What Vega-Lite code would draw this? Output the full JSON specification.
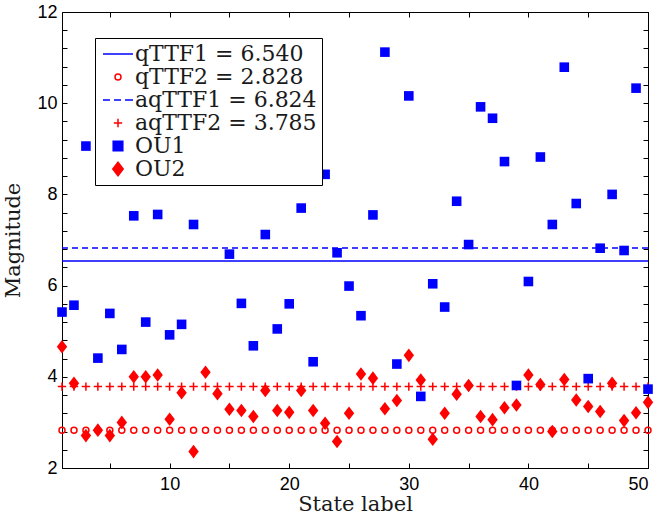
{
  "$schema": "https://vega.github.io/schema/vega-lite/v6.json",
  "width": 586,
  "height": 456,
  "autosize": {"type": "none"},
  "padding": {"left": 62, "top": 12, "right": 11, "bottom": 50},
  "background": "white",
  "config": {
    "view": {"stroke": "black", "strokeWidth": 1},
    "axis": {
      "grid": false,
      "domainColor": "black",
      "domainWidth": 1,
      "tickColor": "black",
      "tickWidth": 1,
      "tickSize": -5,
      "labelFont": "Liberation Sans",
      "labelFontSize": 18,
      "labelColor": "black",
      "titleFont": "DejaVu Serif",
      "titleFontSize": 21,
      "titleFontWeight": "normal",
      "titleColor": "#1a1a1a"
    },
    "legend": {
      "padding": 5,
      "strokeColor": "black",
      "fillColor": "white",
      "symbolSize": 400,
      "symbolStrokeWidth": 1.5,
      "symbolOffset": 7,
      "labelFont": "DejaVu Serif",
      "labelFontSize": 22,
      "labelColor": "#1a1a1a",
      "labelLimit": 400,
      "labelOffset": 6,
      "rowPadding": 1,
      "cornerRadius": 0
    }
  },
  "datasets": {
    "grid": [
      {"x": 1, "q": 2.828, "a": 3.785}, {"x": 2, "q": 2.828, "a": 3.785}, {"x": 3, "q": 2.828, "a": 3.785}, {"x": 4, "q": 2.828, "a": 3.785}, {"x": 5, "q": 2.828, "a": 3.785},
      {"x": 6, "q": 2.828, "a": 3.785}, {"x": 7, "q": 2.828, "a": 3.785}, {"x": 8, "q": 2.828, "a": 3.785}, {"x": 9, "q": 2.828, "a": 3.785}, {"x": 10, "q": 2.828, "a": 3.785},
      {"x": 11, "q": 2.828, "a": 3.785}, {"x": 12, "q": 2.828, "a": 3.785}, {"x": 13, "q": 2.828, "a": 3.785}, {"x": 14, "q": 2.828, "a": 3.785}, {"x": 15, "q": 2.828, "a": 3.785},
      {"x": 16, "q": 2.828, "a": 3.785}, {"x": 17, "q": 2.828, "a": 3.785}, {"x": 18, "q": 2.828, "a": 3.785}, {"x": 19, "q": 2.828, "a": 3.785}, {"x": 20, "q": 2.828, "a": 3.785},
      {"x": 21, "q": 2.828, "a": 3.785}, {"x": 22, "q": 2.828, "a": 3.785}, {"x": 23, "q": 2.828, "a": 3.785}, {"x": 24, "q": 2.828, "a": 3.785}, {"x": 25, "q": 2.828, "a": 3.785},
      {"x": 26, "q": 2.828, "a": 3.785}, {"x": 27, "q": 2.828, "a": 3.785}, {"x": 28, "q": 2.828, "a": 3.785}, {"x": 29, "q": 2.828, "a": 3.785}, {"x": 30, "q": 2.828, "a": 3.785},
      {"x": 31, "q": 2.828, "a": 3.785}, {"x": 32, "q": 2.828, "a": 3.785}, {"x": 33, "q": 2.828, "a": 3.785}, {"x": 34, "q": 2.828, "a": 3.785}, {"x": 35, "q": 2.828, "a": 3.785},
      {"x": 36, "q": 2.828, "a": 3.785}, {"x": 37, "q": 2.828, "a": 3.785}, {"x": 38, "q": 2.828, "a": 3.785}, {"x": 39, "q": 2.828, "a": 3.785}, {"x": 40, "q": 2.828, "a": 3.785},
      {"x": 41, "q": 2.828, "a": 3.785}, {"x": 42, "q": 2.828, "a": 3.785}, {"x": 43, "q": 2.828, "a": 3.785}, {"x": 44, "q": 2.828, "a": 3.785}, {"x": 45, "q": 2.828, "a": 3.785},
      {"x": 46, "q": 2.828, "a": 3.785}, {"x": 47, "q": 2.828, "a": 3.785}, {"x": 48, "q": 2.828, "a": 3.785}, {"x": 49, "q": 2.828, "a": 3.785}, {"x": 50, "q": 2.828, "a": 3.785}
    ],
    "ou": [
      {"s": "OU1", "x": 1, "y": 5.42}, {"s": "OU1", "x": 2, "y": 5.57}, {"s": "OU1", "x": 3, "y": 9.06}, {"s": "OU1", "x": 4, "y": 4.41}, {"s": "OU1", "x": 5, "y": 5.39},
      {"s": "OU1", "x": 6, "y": 4.60}, {"s": "OU1", "x": 7, "y": 7.53}, {"s": "OU1", "x": 8, "y": 5.20}, {"s": "OU1", "x": 9, "y": 7.56}, {"s": "OU1", "x": 10, "y": 4.92},
      {"s": "OU1", "x": 11, "y": 5.15}, {"s": "OU1", "x": 12, "y": 7.34}, {"s": "OU1", "x": 15, "y": 6.69}, {"s": "OU1", "x": 16, "y": 5.61}, {"s": "OU1", "x": 17, "y": 4.68},
      {"s": "OU1", "x": 18, "y": 7.12}, {"s": "OU1", "x": 19, "y": 5.05}, {"s": "OU1", "x": 20, "y": 5.60}, {"s": "OU1", "x": 21, "y": 7.70}, {"s": "OU1", "x": 22, "y": 4.33},
      {"s": "OU1", "x": 23, "y": 8.44}, {"s": "OU1", "x": 24, "y": 6.72}, {"s": "OU1", "x": 25, "y": 5.99}, {"s": "OU1", "x": 26, "y": 5.34}, {"s": "OU1", "x": 27, "y": 7.55},
      {"s": "OU1", "x": 28, "y": 11.12}, {"s": "OU1", "x": 29, "y": 4.28}, {"s": "OU1", "x": 30, "y": 10.16}, {"s": "OU1", "x": 31, "y": 3.57}, {"s": "OU1", "x": 32, "y": 6.04},
      {"s": "OU1", "x": 33, "y": 5.53}, {"s": "OU1", "x": 34, "y": 7.85}, {"s": "OU1", "x": 35, "y": 6.90}, {"s": "OU1", "x": 36, "y": 9.92}, {"s": "OU1", "x": 37, "y": 9.67},
      {"s": "OU1", "x": 38, "y": 8.72}, {"s": "OU1", "x": 39, "y": 3.81}, {"s": "OU1", "x": 40, "y": 6.09}, {"s": "OU1", "x": 41, "y": 8.82}, {"s": "OU1", "x": 42, "y": 7.34},
      {"s": "OU1", "x": 43, "y": 10.79}, {"s": "OU1", "x": 44, "y": 7.80}, {"s": "OU1", "x": 45, "y": 3.96}, {"s": "OU1", "x": 46, "y": 6.82}, {"s": "OU1", "x": 47, "y": 8.00},
      {"s": "OU1", "x": 48, "y": 6.77}, {"s": "OU1", "x": 49, "y": 10.33}, {"s": "OU1", "x": 50, "y": 3.73},
      {"s": "OU2", "x": 1, "y": 4.66}, {"s": "OU2", "x": 2, "y": 3.86}, {"s": "OU2", "x": 3, "y": 2.71}, {"s": "OU2", "x": 4, "y": 2.83}, {"s": "OU2", "x": 5, "y": 2.71},
      {"s": "OU2", "x": 6, "y": 3.00}, {"s": "OU2", "x": 7, "y": 4.00}, {"s": "OU2", "x": 8, "y": 4.00}, {"s": "OU2", "x": 9, "y": 4.04}, {"s": "OU2", "x": 10, "y": 3.07},
      {"s": "OU2", "x": 11, "y": 3.65}, {"s": "OU2", "x": 12, "y": 2.36}, {"s": "OU2", "x": 13, "y": 4.10}, {"s": "OU2", "x": 14, "y": 3.63}, {"s": "OU2", "x": 15, "y": 3.29},
      {"s": "OU2", "x": 16, "y": 3.26}, {"s": "OU2", "x": 17, "y": 3.13}, {"s": "OU2", "x": 18, "y": 3.70}, {"s": "OU2", "x": 19, "y": 3.26}, {"s": "OU2", "x": 20, "y": 3.22},
      {"s": "OU2", "x": 21, "y": 3.70}, {"s": "OU2", "x": 22, "y": 3.26}, {"s": "OU2", "x": 23, "y": 2.98}, {"s": "OU2", "x": 24, "y": 2.58}, {"s": "OU2", "x": 25, "y": 3.20},
      {"s": "OU2", "x": 26, "y": 4.06}, {"s": "OU2", "x": 27, "y": 3.97}, {"s": "OU2", "x": 28, "y": 3.30}, {"s": "OU2", "x": 29, "y": 3.48}, {"s": "OU2", "x": 30, "y": 4.47},
      {"s": "OU2", "x": 31, "y": 3.93}, {"s": "OU2", "x": 32, "y": 2.63}, {"s": "OU2", "x": 33, "y": 3.20}, {"s": "OU2", "x": 34, "y": 3.62}, {"s": "OU2", "x": 35, "y": 3.81},
      {"s": "OU2", "x": 36, "y": 3.13}, {"s": "OU2", "x": 37, "y": 3.06}, {"s": "OU2", "x": 38, "y": 3.32}, {"s": "OU2", "x": 39, "y": 3.38}, {"s": "OU2", "x": 40, "y": 4.04},
      {"s": "OU2", "x": 41, "y": 3.83}, {"s": "OU2", "x": 42, "y": 2.80}, {"s": "OU2", "x": 43, "y": 3.94}, {"s": "OU2", "x": 44, "y": 3.49}, {"s": "OU2", "x": 45, "y": 3.35},
      {"s": "OU2", "x": 46, "y": 3.24}, {"s": "OU2", "x": 47, "y": 3.86}, {"s": "OU2", "x": 48, "y": 3.04}, {"s": "OU2", "x": 49, "y": 3.21}, {"s": "OU2", "x": 50, "y": 3.44}
    ]
  },
  "resolve": {"axis": {"x": "independent", "y": "independent"}},
  "layer": [
    {
      "data": {"values": [{"s": "qTTF1 = 6.540", "y": 6.54}, {"s": "aqTTF1 = 6.824", "y": 6.824}]},
      "mark": {"type": "rule", "strokeWidth": 1.5},
      "encoding": {
        "y": {"field": "y", "type": "quantitative", "scale": {"domain": [2, 12], "nice": false, "zero": false}, "axis": null},
        "color": {"field": "s", "type": "nominal",
          "scale": {"domain": ["qTTF1 = 6.540", "qTTF2 = 2.828", "aqTTF1 = 6.824", "aqTTF2 = 3.785", "OU1", "OU2"], "range": ["#0000ff", "#ff0000", "#0000ff", "#ff0000", "#0000ff", "#ff0000"]}},
        "strokeDash": {"field": "s", "type": "nominal", "legend": null,
          "scale": {"domain": ["qTTF1 = 6.540", "aqTTF1 = 6.824"], "range": [[1, 0], [6, 4]]}}
      }
    },
    {
      "data": {"name": "grid"},
      "mark": {"type": "point", "filled": false, "strokeWidth": 1.5, "size": 400, "opacity": 1},
      "encoding": {
        "x": {"field": "x", "type": "quantitative", "scale": {"domain": [1, 50], "nice": false, "zero": false},
          "axis": {"orient": "top", "values": [5, 10, 15, 20, 25, 30, 35, 40, 45, 50], "labels": false, "title": null}},
        "y": {"field": "q", "type": "quantitative", "scale": {"domain": [2, 12], "nice": false, "zero": false},
          "axis": {"orient": "right", "values": [2, 2.4, 2.8, 3.2, 3.6, 4, 4.4, 4.8, 5.2, 5.6, 6, 6.4, 6.8, 7.2, 7.6, 8, 8.4, 8.8, 9.2, 9.6, 10, 10.4, 10.8, 11.2, 11.6, 12], "labels": false, "title": null}},
        "color": {"datum": "qTTF2 = 2.828", "type": "nominal"},
        "shape": {"datum": "qTTF2 = 2.828", "type": "nominal", "legend": null,
          "scale": {"domain": ["qTTF1 = 6.540", "qTTF2 = 2.828", "aqTTF1 = 6.824", "aqTTF2 = 3.785", "OU1", "OU2"],
            "range": [
              "M-1.5,0H1.5",
              "M-0.3,0A0.3,0.3,0,1,1,0.3,0A0.3,0.3,0,1,1,-0.3,0ZM-0.3,0A0.3,0.3,0,1,0,0.3,0A0.3,0.3,0,1,0,-0.3,0Z",
              "M-1.5,0H-0.8M-0.4,0H0.3M0.7,0H1.5",
              "M-0.42,0H0.42M0,-0.42V0.42",
              "M-0.48,-0.48H0.48V0.48H-0.48Z",
              "M0,-0.68L0.52,0L0,0.68L-0.52,0Z"
            ]}}
      }
    },
    {
      "data": {"name": "grid"},
      "mark": {"type": "point", "filled": false, "strokeWidth": 1.5, "size": 400, "opacity": 1},
      "encoding": {
        "x": {"field": "x", "type": "quantitative", "axis": null},
        "y": {"field": "a", "type": "quantitative", "axis": null},
        "color": {"datum": "aqTTF2 = 3.785", "type": "nominal"},
        "shape": {"datum": "aqTTF2 = 3.785", "type": "nominal", "legend": null}
      }
    },
    {
      "data": {"name": "ou"},
      "mark": {"type": "point", "filled": true, "size": 400, "opacity": 1},
      "encoding": {
        "x": {"field": "x", "type": "quantitative",
          "axis": {"orient": "bottom", "values": [5, 10, 15, 20, 25, 30, 35, 40, 45, 50], "labelExpr": "datum.value % 10 === 0 ? datum.label : ''", "labelPadding": 12, "title": "State label", "titlePadding": 0}},
        "y": {"field": "y", "type": "quantitative",
          "axis": {"orient": "left", "values": [2, 2.4, 2.8, 3.2, 3.6, 4, 4.4, 4.8, 5.2, 5.6, 6, 6.4, 6.8, 7.2, 7.6, 8, 8.4, 8.8, 9.2, 9.6, 10, 10.4, 10.8, 11.2, 11.6, 12], "labelExpr": "datum.value % 2 === 0 ? format(datum.value, 'd') : ''", "labelPadding": 10, "title": "Magnitude", "titlePadding": 13}},
        "color": {"field": "s", "type": "nominal",
          "legend": {"title": null, "orient": "none", "legendX": 33, "legendY": 26}},
        "shape": {"field": "s", "type": "nominal", "legend": null}
      }
    }
  ]
}
